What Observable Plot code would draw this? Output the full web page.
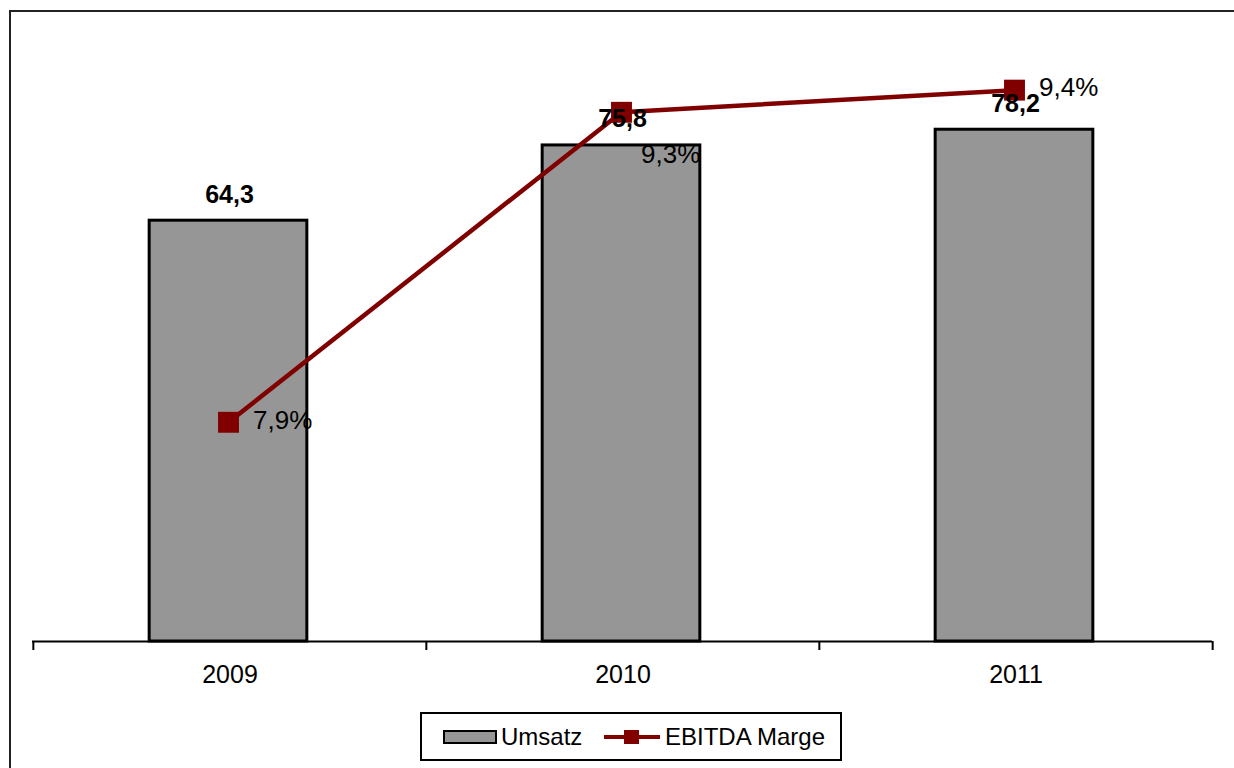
<!DOCTYPE html>
<html>
<head>
<meta charset="utf-8">
<script src="https://cdn.jsdelivr.net/npm/d3@7"></script>
<script src="https://cdn.jsdelivr.net/npm/@observablehq/plot@0.6"></script>
<style>
  html, body { margin: 0; padding: 0; background: #fff; }
  body { width: 1234px; height: 768px; overflow: hidden; font-family: "Liberation Sans", Arial, sans-serif; }
  #wrap { position: relative; width: 1234px; height: 768px; overflow: hidden; }
  #frame { position: absolute; left: 9px; top: 10px; width: 1300px; height: 900px; border-left: 2px solid #222; border-top: 2px solid #222; pointer-events: none; }
  #chart { position: absolute; left: 0; top: 0; }
  #legend { position: absolute; left: 420px; top: 712px; width: 418px; height: 45px; border: 2px solid #000; background: #fff; box-sizing: content-box; }
  .item { position: absolute; top: 0; height: 45px; display: flex; align-items: center; font-size: 24px; color: #000; }
  .sw-bar { width: 50px; height: 10px; background: #969696; border: 2px solid #000; margin-right: 4px; }
  .sw-line { position: relative; width: 56px; height: 22px; margin-right: 5px; }
  .sw-line::before { content: ""; position: absolute; left: 0; right: 0; top: 9px; height: 4px; background: #800000; }
  .sw-line::after { content: ""; position: absolute; left: 20px; top: 4px; width: 15px; height: 14px; background: #800000; }
</style>
</head>
<body>
<div id="wrap">
  <div id="chart"></div>
  <div id="frame"></div>
  <div id="legend">
    <div class="item" style="left:21px"><span class="sw-bar"></span>Umsatz</div>
    <div class="item" style="left:182px"><span class="sw-line"></span>EBITDA Marge</div>
  </div>
</div>
<script>
// Data
const years = ["2009", "2010", "2011"];
const umsatz = [64.3, 75.8, 78.2];          // bars (primary axis)
const ebitdaMarge = [7.9, 9.3, 9.4];        // line, % (secondary axis)

const data = years.map((y, i) => ({year: y, u: umsatz[i], m: ebitdaMarge[i]}));

const W = 1234, H = 768;
const mL = 32, mR = 22, mT = 52, mB = 127;
const bw = (W - mL - mR) / years.length;
const barWidth = 158;
const inset = (bw - barWidth) / 2;

// secondary axis mapped onto primary domain
const yDomain = [0, 90];
const y2 = d3.scaleLinear([6.91, 9.57], yDomain);

const fmt = v => v.toFixed(1).replace(".", ",");
const font = "Liberation Sans, Arial, sans-serif";

const chart = Plot.plot({
  width: W,
  height: H,
  marginLeft: mL, marginRight: mR, marginTop: mT, marginBottom: mB,
  style: {fontFamily: font, background: "transparent", overflow: "visible"},
  x: {type: "band", domain: years, padding: 0, axis: null, label: null},
  y: {domain: yDomain, axis: null, label: null},
  marks: [
    Plot.barY(data, {x: "year", y: "u", fill: "#969696", stroke: "#000", strokeWidth: 3, insetLeft: inset - 1.5, insetRight: inset + 1.5}),
    Plot.ruleY([0], {stroke: "#000", strokeWidth: 2}),
    Plot.axisX({tickSize: 9, tickFormat: () => "", label: null, dx: -bw / 2, stroke: "#000", strokeWidth: 2}),
    Plot.axisX([years[years.length - 1]], {tickSize: 9, tickFormat: () => "", label: null, dx: bw / 2, stroke: "#000", strokeWidth: 2}),
    Plot.axisX({tickSize: 0, tickPadding: 24, fontSize: 25, fill: "#000", label: null}),
    Plot.line(data, {x: "year", y: d => y2(d.m), stroke: "#800000", strokeWidth: 4.5, dx: -1.5}),
    Plot.dot(data, {x: "year", y: d => y2(d.m), symbol: "square", r: 11.8, fill: "#800000", stroke: "none", dx: -1.5}),
    Plot.text(data.filter(d => d.year !== "2010"), {x: "year", y: d => y2(d.m), text: d => fmt(d.m) + "%", textAnchor: "start", dx: 23, dy: -2, fontSize: 26, fill: "#000"}),
    Plot.text(data.filter(d => d.year === "2010"), {x: "year", y: d => y2(d.m), text: d => fmt(d.m) + "%", textAnchor: "start", dx: 18, dy: 42, fontSize: 26, fill: "#000"}),
    Plot.text(data, {x: "year", y: "u", text: d => fmt(d.u), dy: -26, dx: -0.5, fontSize: 25, fontWeight: "bold", fill: "#000"})
  ]
});
document.getElementById("chart").appendChild(chart);
</script>
</body>
</html>
